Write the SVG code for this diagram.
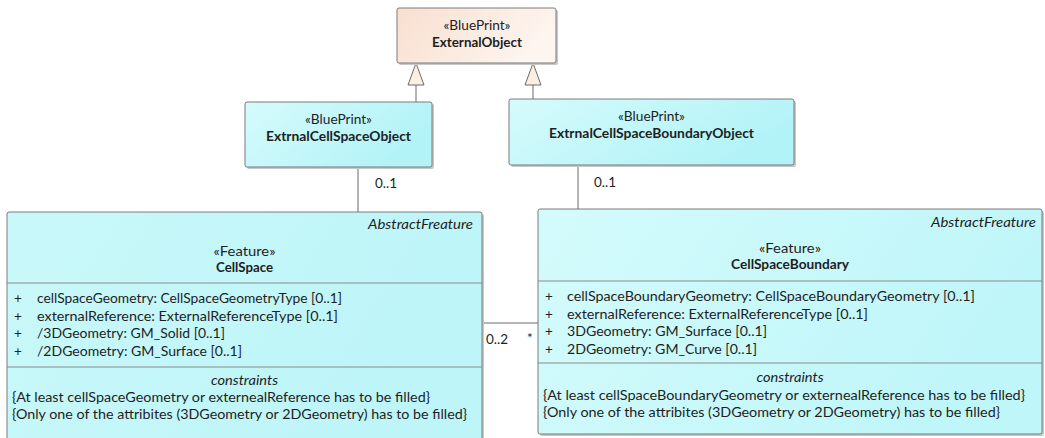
<svg xmlns="http://www.w3.org/2000/svg" width="1045" height="438" viewBox="0 0 1045 438">
<defs>
<linearGradient id="peach" x1="0" y1="0" x2="1" y2="0.3">
<stop offset="0" stop-color="#f8dfcf"/>
<stop offset="1" stop-color="#fdf5ef"/>
</linearGradient>
<linearGradient id="cyanL" x1="0" y1="0" x2="1" y2="0.4">
<stop offset="0" stop-color="#d6fbfc"/>
<stop offset="1" stop-color="#b2f3f7"/>
</linearGradient>
<linearGradient id="cyanBig" x1="0" y1="0" x2="1" y2="0.3">
<stop offset="0" stop-color="#c9f8fa"/>
<stop offset="1" stop-color="#bdf5f8"/>
</linearGradient>
<linearGradient id="cyanBig2" x1="0" y1="0" x2="1" y2="0.3">
<stop offset="0" stop-color="#d4fbfc"/>
<stop offset="1" stop-color="#bff6f9"/>
</linearGradient>
</defs>
<style>
text{font-family:Lato,"Open Sans","Liberation Sans",sans-serif;font-size:13.5px;fill:#1e1e1e}
.b{font-weight:bold}
.i{font-style:italic}
.c{text-anchor:middle}
.r{text-anchor:end}
.box{stroke:#7a7a7a;stroke-width:1}
.sh{fill:#c8c8c8}
.div{stroke:#8a8a8a;stroke-width:1}
.ln{stroke:#6a6a6a;stroke-width:1;fill:none}
.tri{fill:#fbeee3;stroke:#6a6a6a;stroke-width:1}
</style>
<rect width="1045" height="438" fill="#ffffff"/>

<g id="connectors">
<line class="ln" x1="416" y1="85" x2="416" y2="102"/>
<polygon class="tri" points="416,63 408,85 424,85"/>
<line class="ln" x1="533" y1="85" x2="533" y2="99"/>
<polygon class="tri" points="533,63 525,85 541,85"/>
<line class="ln" x1="358" y1="167" x2="358" y2="212"/>
<text x="375" y="188">0..1</text>
<line class="ln" x1="578" y1="165" x2="578" y2="209"/>
<text x="594" y="187">0..1</text>
<line class="ln" x1="482" y1="323" x2="538" y2="323"/>
<text x="486" y="344">0..2</text>
<text x="527" y="343">*</text>
</g>

<g id="ExternalObject">
<rect class="sh" x="399" y="10" width="159" height="55" rx="2"/>
<rect class="box" x="397" y="8" width="159" height="55" rx="2" fill="url(#peach)"/>
<text class="c" x="477" y="30" textLength="67" lengthAdjust="spacingAndGlyphs">«BluePrint»</text>
<text class="c b" x="477" y="47" textLength="90" lengthAdjust="spacingAndGlyphs">ExternalObject</text>
</g>

<g id="ExtrnalCellSpaceObject">
<rect class="sh" x="247" y="104" width="187" height="65" rx="2"/>
<rect class="box" x="245" y="102" width="187" height="65" rx="2" fill="url(#cyanL)"/>
<text class="c" x="338.5" y="124" textLength="67" lengthAdjust="spacingAndGlyphs">«BluePrint»</text>
<text class="c b" x="338.5" y="141" textLength="145" lengthAdjust="spacingAndGlyphs">ExtrnalCellSpaceObject</text>
</g>

<g id="ExtrnalCellSpaceBoundaryObject">
<rect class="sh" x="511" y="101" width="285" height="66" rx="2"/>
<rect class="box" x="509" y="99" width="285" height="66" rx="2" fill="url(#cyanL)"/>
<text class="c" x="651.5" y="121" textLength="67" lengthAdjust="spacingAndGlyphs">«BluePrint»</text>
<text class="c b" x="651.5" y="138" textLength="205" lengthAdjust="spacingAndGlyphs">ExtrnalCellSpaceBoundaryObject</text>
</g>

<g id="CellSpace">
<rect class="sh" x="9" y="214" width="475" height="240" rx="2"/>
<rect class="box" x="7" y="212" width="475" height="240" rx="2" fill="url(#cyanBig)"/>
<text class="r i" x="473" y="229" textLength="105" lengthAdjust="spacingAndGlyphs">AbstractFreature</text>
<text class="c" x="244.5" y="256" textLength="62" lengthAdjust="spacingAndGlyphs">«Feature»</text>
<text class="c b" x="244.5" y="272" textLength="57" lengthAdjust="spacingAndGlyphs">CellSpace</text>
<line class="div" x1="7" y1="283" x2="482" y2="283"/>
<text x="14" y="303">+</text>
<text x="37" y="303" textLength="305" lengthAdjust="spacingAndGlyphs">cellSpaceGeometry: CellSpaceGeometryType [0..1]</text>
<text x="14" y="320.5">+</text>
<text x="37" y="320.5" textLength="301" lengthAdjust="spacingAndGlyphs">externalReference: ExternalReferenceType [0..1]</text>
<text x="14" y="338">+</text>
<text x="37" y="338" textLength="188" lengthAdjust="spacingAndGlyphs">/3DGeometry: GM_Solid [0..1]</text>
<text x="14" y="355.5">+</text>
<text x="37" y="355.5" textLength="205" lengthAdjust="spacingAndGlyphs">/2DGeometry: GM_Surface [0..1]</text>
<line class="div" x1="7" y1="367" x2="482" y2="367"/>
<text class="c i" x="244.5" y="385" textLength="67" lengthAdjust="spacingAndGlyphs">constraints</text>
<text x="12" y="402" textLength="418" lengthAdjust="spacingAndGlyphs">{At least cellSpaceGeometry or externealReference has to be filled}</text>
<text x="12" y="419" textLength="455" lengthAdjust="spacingAndGlyphs">{Only one of the attribites (3DGeometry or 2DGeometry) has to be filled}</text>
</g>

<g id="CellSpaceBoundary">
<rect class="sh" x="540" y="211" width="504" height="225" rx="2"/>
<rect class="box" x="538" y="209" width="504" height="225" rx="2" fill="url(#cyanBig2)"/>
<text class="r i" x="1036" y="227" textLength="105" lengthAdjust="spacingAndGlyphs">AbstractFreature</text>
<text class="c" x="790" y="253" textLength="62" lengthAdjust="spacingAndGlyphs">«Feature»</text>
<text class="c b" x="790" y="269" textLength="118" lengthAdjust="spacingAndGlyphs">CellSpaceBoundary</text>
<line class="div" x1="538" y1="281" x2="1042" y2="281"/>
<text x="545" y="301">+</text>
<text x="567" y="301" textLength="408" lengthAdjust="spacingAndGlyphs">cellSpaceBoundaryGeometry: CellSpaceBoundaryGeometry [0..1]</text>
<text x="545" y="318.5">+</text>
<text x="567" y="318.5" textLength="301" lengthAdjust="spacingAndGlyphs">externalReference: ExternalReferenceType [0..1]</text>
<text x="545" y="336">+</text>
<text x="567" y="336" textLength="200" lengthAdjust="spacingAndGlyphs">3DGeometry: GM_Surface [0..1]</text>
<text x="545" y="353.5">+</text>
<text x="567" y="353.5" textLength="190" lengthAdjust="spacingAndGlyphs">2DGeometry: GM_Curve [0..1]</text>
<line class="div" x1="538" y1="363" x2="1042" y2="363"/>
<text class="c i" x="790" y="382" textLength="67" lengthAdjust="spacingAndGlyphs">constraints</text>
<text x="543" y="400" textLength="482" lengthAdjust="spacingAndGlyphs">{At least cellSpaceBoundaryGeometry or externealReference has to be filled}</text>
<text x="543" y="417" textLength="457" lengthAdjust="spacingAndGlyphs">{Only one of the attribites (3DGeometry or 2DGeometry) has to be filled}</text>
</g>
</svg>
